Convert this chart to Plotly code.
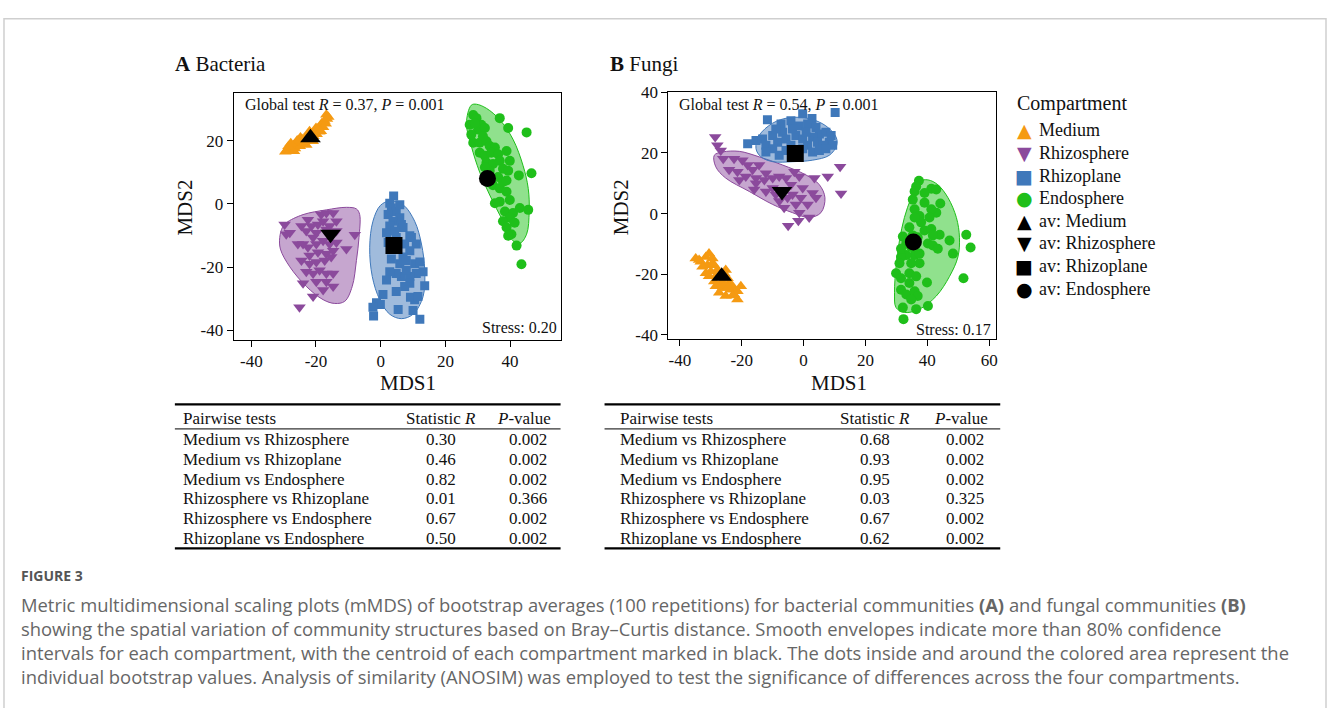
import plotly.graph_objects as go

W, H = 1328, 708
SERIF = "Liberation Serif"
SANS = "Open Sans"

# ---------------- DATA ----------------
compartments = ["Medium", "Rhizosphere", "Rhizoplane", "Endosphere"]
colors = ["#F59A12", "#8B4A9C", "#3F78BA", "#1FBF1A"]
fills = ["rgba(245,154,18,0.5)", "rgba(142,78,160,0.5)", "rgba(66,120,186,0.5)", "rgba(34,196,28,0.5)"]
symbols = ["triangle-up", "triangle-down", "square", "circle"]
legend_glyphs = ["\u25B2", "\u25BC", "\u25A0", "\u25CF"]
point_sizes = [11, 11, 9, 10]
centroid_sizes = [18, 18, 17, 17]

# Bacteria (A)
bac_medium = [(-29.5,16.5),(-28.8,17.2),(-28,16.8),(-27.5,17.8),(-27,18.5),(-26.5,17.5),(-26,18.8),(-25.5,19.5),
              (-25,18.2),(-24.5,19.8),(-24,20.5),(-23.8,19),(-23.2,21),(-22.8,20),(-22.3,21.8),(-21.8,20.6),
              (-21.3,22.2),(-20.8,21.4),(-20.3,23),(-19.8,22),(-19.4,23.8),(-19,22.8),(-18.6,24.6),(-18.2,25.5),
              (-17.8,24.2),(-17.4,26.2),(-17,25.3),(-16.6,26.8),(-16.2,27.5),(-26.8,16.6),(-28.5,18.2),(-24.8,21),
              (-23,18.6),(-21,19.8),(-20,24),(-18.5,23),(-22,23),(-25.8,20),(-27.8,19.2),(-16.8,28.2)]
bac_rhizosphere = [(-29.7,-6.5),(-29.2,-9.6),(-24.5,-7.0),(-23.0,-8.6),(-21.4,-7.0),(-18.4,-3.4),(-16.8,-2.9),(-14.7,-2.9),
                   (-17.8,-5.5),(-13.7,-5.5),(-19.9,-9.1),(-16.8,-8.1),(-20.9,-10.6),(-25.6,-12.7),(-24.0,-12.7),(-22.5,-13.7),
                   (-19.9,-12.7),(-17.8,-11.7),(-15.8,-12.7),(-13.7,-12.2),(-10.6,-14.3),(-8.0,-9.8),(-22.0,-16.3),(-19.4,-15.3),
                   (-16.8,-15.8),(-14.7,-14.8),(-24.5,-17.9),(-22.0,-18.9),(-19.9,-18.4),(-17.3,-17.9),(-15.3,-16.8),(-23.0,-21.5),
                   (-20.9,-22.0),(-18.9,-21.0),(-16.8,-22.0),(-24.0,-25.1),(-19.9,-24.6),(-16.8,-24.6),(-14.7,-26.1),(-17.8,-27.2),
                   (-20.9,-29.3),(-25.1,-32.7),(-14.7,-22.0),(-28.1,-9.1),(-15.8,-7.0),(-22.5,-5.0),(-13.7,-8.6),(-19.4,-6.5)]
bac_rhizoplane = [(4.0,2.5),(2.8,0.2),(3.3,-1.3),(4.8,-2.4),(5.9,-0.3),(2.3,-3.4),(5.9,-4.4),(3.8,-5.5),(6.4,-6.5),
                  (2.8,-7.0),(1.8,-9.1),(6.9,-7.5),(9.0,-10.1),(7.4,-12.7),(11.0,-12.7),(4.8,-10.6),(9.0,-14.8),(6.9,-16.8),
                  (3.3,-17.4),(5.9,-18.9),(7.9,-17.9),(10.5,-18.9),(12.1,-18.4),(13.1,-21.5),(11.0,-22.0),(9.0,-23.0),
                  (6.4,-23.0),(4.8,-22.0),(2.8,-21.5),(1.8,-24.1),(9.0,-25.1),(7.4,-26.1),(4.8,-27.7),(0.7,-28.7),
                  (-1.3,-31.3),(-0.1,-31.8),(-2.4,-32.7),(-2.2,-35.5),(5.4,-33.4),(10.0,-33.7),(12.1,-36.5),(10.5,-30.3),
                  (9.2,-29.5),(11.5,-29.3),(13.6,-25.9),(7.9,-21.0),(2.3,-12.2),(4.3,-8.6),(9.5,-10.6)]
bac_endosphere = [(28.6,28.1),(29.6,27.1),(27.5,25.0),(31.1,25.0),(30.1,23.5),(32.2,24.0),(36.8,27.1),(39.4,24.0),
                  (45.1,22.6),(28.6,19.3),(30.6,19.3),(32.7,19.8),(33.7,18.3),(35.3,17.8),(30.6,16.2),(32.2,15.2),
                  (34.2,16.2),(36.3,15.7),(38.9,16.7),(32.7,13.1),(34.7,12.6),(36.8,13.6),(39.9,13.6),(37.8,11.1),
                  (39.4,10.5),(42.7,9.0),(46.6,9.7),(36.3,8.5),(34.7,5.9),(36.8,4.9),(37.8,6.9),(38.9,3.8),(39.9,1.2),
                  (36.8,0.7),(35.3,0.2),(38.4,-2.4),(40.9,-2.9),(43.0,-1.3),(45.6,-1.9),(39.9,-4.4),(41.4,-6.0),
                  (37.8,-5.5),(38.9,-7.5),(40.4,-9.6),(39.4,-10.1),(42.0,-13.2),(43.5,-19.1),(33.7,10.5),(32.2,11.6),
                  (38.9,7.4),(29.1,25.5),(28.0,21.9),(31.6,21.4)]
bac_centroid_x = [-21.7, -15.5, 4.1, 33.0]
bac_centroid_y = [20.9, -9.6, -13.2, 8.0]

bac_env_rhizosphere = [(-29.2,-6.0),(-24.0,-3.4),(-16.8,-1.9),(-10.6,-1.1),(-7.5,-1.6),(-6.5,-3.4),(-6.7,-10.6),
                       (-7.5,-17.9),(-8.8,-26.1),(-11.1,-30.8),(-14.2,-31.5),(-17.8,-30.3),(-23.0,-26.1),(-28.1,-19.9),
                       (-31.0,-14.3),(-31.2,-10.6),(-30.4,-7.5)]
bac_env_rhizoplane = [(2.8,0.9),(6.9,-0.3),(10.5,-5.5),(12.6,-12.7),(13.6,-21.0),(13.1,-29.3),(10.0,-34.9),(6.4,-36.3),
                      (2.8,-34.9),(-0.3,-30.3),(-2.6,-23.0),(-3.4,-13.7),(-2.4,-5.5),(-0.1,-0.5)]
bac_env_endosphere = [(28.0,31.2),(26.5,25.5),(28.0,18.3),(30.6,10.0),(33.7,2.8),(37.8,-5.5),(40.9,-11.7),(43.0,-12.5),
                      (45.1,-9.6),(45.9,-2.4),(45.6,4.9),(44.0,12.1),(40.9,20.4),(36.8,26.6),(32.7,30.2),(29.6,31.5)]

# Fungi (B)
fun_medium = [(-34.9,-14.8),(-33.3,-15.9),(-31.6,-14.3),(-30.6,-13.2),(-29.5,-14.8),(-31.1,-17.0),(-28.9,-17.0),
              (-32.7,-17.5),(-30.0,-19.1),(-27.9,-18.6),(-28.4,-20.7),(-30.6,-20.7),(-26.8,-22.9),(-28.9,-22.4),
              (-25.7,-19.7),(-24.6,-21.3),(-24.1,-22.9),(-26.2,-24.5),(-23.5,-25.1),(-22.5,-26.7),(-21.4,-28.3),
              (-25.2,-27.2),(-23.0,-24.0),(-20.3,-24.0),(-27.3,-26.1),(-28.4,-24.0),(-21.4,-25.6),(-31.6,-19.7),
              (-25.2,-18.6),(-33.8,-15.3),(-29.5,-16.5),(-27.0,-21.0),(-26.0,-23.0),(-24.5,-24.5),(-23.0,-27.0)]
fun_rhizosphere = [(-28.6,25.2),(-27.9,22.5),(-26.8,20.8),(-26.0,18.1),(-22.5,18.1),(-19.8,17.6),(-18.1,16.0),(-16.5,14.4),
                   (-14.4,16.0),(-12.2,13.3),(-21.4,13.8),(-18.7,12.2),(-15.4,11.7),(-12.7,11.1),(-10.0,11.7),(-7.9,12.2),
                   (-5.7,11.7),(-3.0,13.8),(-1.4,12.2),(3.5,11.7),(7.8,12.2),(11.8,15.4),(12.1,6.6),(-4.1,9.5),(-0.3,8.4),
                   (2.9,6.8),(-0.9,5.2),(-2.5,3.0),(1.3,3.0),(-1.4,0.3),(1.8,-1.3),(-5.0,-4.0),(-1.7,-2.4),(-10.0,8.4),
                   (-12.2,7.3),(-16.0,7.9),(-20.8,11.1),(-24.1,14.4),(-5.2,5.2),(-6.3,1.9),(-7.9,4.1),(-3.6,6.3),(4.0,5.2),
                   (-15.4,10.0),(-9.0,6.3)]
fun_rhizoplane = [(-11.7,30.9),(-0.3,32.9),(2.7,31.3),(10.2,33.3),(-7.3,29.5),(-4.1,30.6),(-1.4,28.9),(1.3,29.5),(4.0,28.4),
                  (5.1,26.2),(7.2,26.8),(8.3,23.5),(9.4,22.5),(-18.1,23.0),(-15.4,24.1),(-13.3,24.6),(-12.2,22.5),
                  (-10.0,25.7),(-8.4,23.5),(-6.8,26.8),(-5.7,24.6),(-4.1,22.5),(-2.5,25.7),(-0.3,24.6),(1.3,22.5),
                  (2.9,25.2),(4.5,23.5),(6.2,22.5),(-10.0,21.4),(-7.9,19.2),(-5.7,20.8),(-0.3,21.4),(2.9,20.3),(5.1,20.8),
                  (7.2,21.4),(-12.2,20.3),(-3.6,27.9),(-9.0,27.9),(0.8,26.8),(8.9,25.7)]
fun_endosphere = [(37.3,10.8),(36.4,8.9),(35.9,7.3),(41.3,8.2),(42.9,7.9),(39.1,6.8),(35.3,4.6),(39.1,3.6),(44.2,3.3),
                  (42.9,0.3),(41.3,1.4),(35.9,1.4),(37.5,-0.8),(40.7,-1.3),(38.0,-2.9),(39.1,-5.6),(41.3,-5.1),(32.1,-7.6),
                  (33.2,-9.9),(34.8,-11.0),(36.9,-7.8),(35.9,-13.7),(37.5,-16.4),(34.8,-16.4),(33.2,-13.7),(31.5,-14.3),
                  (31.0,-16.4),(29.9,-19.7),(31.5,-21.3),(34.2,-19.7),(36.4,-20.7),(34.2,-22.9),(31.5,-25.1),(33.2,-26.7),
                  (35.9,-25.6),(36.9,-27.2),(34.8,-28.3),(32.1,-31.0),(36.4,-31.5),(40.2,-30.5),(39.9,-22.7),(40.2,-9.9),
                  (41.8,-10.5),(43.4,-11.6),(44.0,-7.0),(47.2,-8.9),(48.3,-13.2),(52.6,-7.0),(54.0,-11.2),(51.7,-21.3),
                  (32.3,-34.8),(31.5,-11.6),(37.5,-13.2),(35.3,-7.2),(34.2,-4.5),(41.8,-7.2),(35.9,-1.3)]
fun_centroid_x = [-26.5, -7.0, -2.7, 35.5]
fun_centroid_y = [-20.7, 7.3, 19.8, -9.4]

fun_env_rhizosphere = [(-28.9,19.2),(-26.2,20.3),(-20.8,20.5),(-14.4,18.7),(-6.8,16.0),(0.8,12.7),(5.1,9.5),(6.9,5.2),
                       (5.6,0.3),(1.8,-1.3),(-3.6,0.3),(-10.0,3.0),(-17.6,7.3),(-25.2,11.7),(-28.4,15.4)]
fun_env_rhizoplane = [(-15.4,21.4),(-14.4,25.7),(-10.0,29.8),(-4.6,31.6),(1.8,31.3),(7.2,28.9),(10.5,25.2),(10.7,22.5),
                      (8.3,19.2),(2.9,17.6),(-3.6,17.1),(-10.0,17.1),(-13.8,18.7)]
fun_env_endosphere = [(37.5,10.6),(40.2,11.1),(43.4,9.5),(46.7,5.2),(49.4,-1.3),(50.4,-7.8),(49.9,-14.3),(47.2,-20.7),
                      (42.9,-27.2),(37.5,-31.5),(32.6,-32.6),(29.9,-31.0),(29.4,-26.1),(29.9,-17.5),(31.0,-8.9),
                      (32.6,-1.3),(34.8,5.2)]

# Tick labels
bac_xticks = [-40, -20, 0, 20, 40]
bac_yticks = [-40, -20, 0, 20]
fun_xticks = [-40, -20, 0, 20, 40, 60]
fun_yticks = [-40, -20, 0, 20, 40]

# Tables
pair_names = ["Medium vs Rhizosphere", "Medium vs Rhizoplane", "Medium vs Endosphere",
              "Rhizosphere vs Rhizoplane", "Rhizosphere vs Endosphere", "Rhizoplane vs Endosphere"]
bac_R = ["0.30", "0.46", "0.82", "0.01", "0.67", "0.50"]
bac_P = ["0.002", "0.002", "0.002", "0.366", "0.002", "0.002"]
fun_R = ["0.68", "0.93", "0.95", "0.03", "0.67", "0.62"]
fun_P = ["0.002", "0.002", "0.002", "0.325", "0.002", "0.002"]

caption_lines = [
    "Metric multidimensional scaling plots (mMDS) of bootstrap averages (100 repetitions) for bacterial communities <b>(A)</b> and fungal communities <b>(B)</b>",
    "showing the spatial variation of community structures based on Bray\u2013Curtis distance. Smooth envelopes indicate more than 80% confidence",
    "intervals for each compartment, with the centroid of each compartment marked in black. The dots inside and around the colored area represent the",
    "individual bootstrap values. Analysis of similarity (ANOSIM) was employed to test the significance of differences across the four compartments.",
]

# ---------------- FIGURE ----------------
def px(x):
    return x / W

def py(y):
    return 1 - y / H

fig = go.Figure()

panels = [
    dict(xa="x", ya="y", pts=[bac_medium, bac_rhizosphere, bac_rhizoplane, bac_endosphere],
         env=[None, bac_env_rhizosphere, bac_env_rhizoplane, bac_env_endosphere],
         cx=bac_centroid_x, cy=bac_centroid_y),
    dict(xa="x2", ya="y2", pts=[fun_medium, fun_rhizosphere, fun_rhizoplane, fun_endosphere],
         env=[None, fun_env_rhizosphere, fun_env_rhizoplane, fun_env_endosphere],
         cx=fun_centroid_x, cy=fun_centroid_y),
]

for pi, p in enumerate(panels):
    for i, env in enumerate(p["env"]):
        if env is None:
            continue
        ex = [q[0] for q in env] + [env[0][0]]
        ey = [q[1] for q in env] + [env[0][1]]
        fig.add_trace(go.Scatter(x=ex, y=ey, xaxis=p["xa"], yaxis=p["ya"], mode="lines",
                                 line=dict(color=colors[i], width=1, shape="spline", smoothing=1.0),
                                 fill="toself", fillcolor=fills[i], showlegend=False, hoverinfo="skip"))
    for i, pts in enumerate(p["pts"]):
        fig.add_trace(go.Scatter(x=[q[0] for q in pts], y=[q[1] for q in pts], xaxis=p["xa"], yaxis=p["ya"],
                                 mode="markers", name=compartments[i],
                                 marker=dict(symbol=symbols[i], size=point_sizes[i], color=colors[i], line=dict(width=0)),
                                 showlegend=False))
    for i in range(4):
        fig.add_trace(go.Scatter(x=[p["cx"][i]], y=[p["cy"][i]], xaxis=p["xa"], yaxis=p["ya"],
                                 mode="markers", name="av: " + compartments[i],
                                 marker=dict(symbol=symbols[i], size=centroid_sizes[i], color="black", line=dict(width=0)),
                                 showlegend=False))

axis_common = dict(showline=True, mirror=True, linecolor="black", linewidth=1.3, ticks="outside", ticklen=6,
                   tickwidth=1, tickcolor="black", showgrid=False, zeroline=False,
                   tickfont=dict(family=SERIF, size=17, color="#111"))

fig.update_layout(
    width=W, height=H, margin=dict(l=0, r=0, t=0, b=0),
    paper_bgcolor="white", plot_bgcolor="white",
    xaxis=dict(domain=[px(234), px(561)], range=[-45.4, 55.6], anchor="y",
               tickvals=bac_xticks, ticktext=[str(v) for v in bac_xticks], **axis_common),
    yaxis=dict(domain=[py(338), py(86)], range=[-43.0, 35.0], anchor="x",
               tickvals=bac_yticks, ticktext=[str(v) for v in bac_yticks], **axis_common),
    xaxis2=dict(domain=[px(669), px(997)], range=[-43.7, 62.3], anchor="y2",
                tickvals=fun_xticks, ticktext=[str(v) for v in fun_xticks], **axis_common),
    yaxis2=dict(domain=[py(337), py(85)], range=[-41.3, 40.0], anchor="x2",
                tickvals=fun_yticks, ticktext=[str(v) for v in fun_yticks], **axis_common),
    showlegend=False,
)

ann = []
def add_text(x, y, text, size, family=SERIF, xanchor="left", color="#111", textangle=0, align="center"):
    ann.append(dict(x=px(x), y=py(y), xref="paper", yref="paper", text=text, showarrow=False,
                    xanchor=xanchor, yanchor="middle", font=dict(family=family, size=size, color=color),
                    textangle=textangle, borderpad=0, align=align))

# panel titles
add_text(174, 56, "<b>A</b> Bacteria", 21)
add_text(609, 56, "<b>B</b> Fungi", 21)
# in-plot texts
add_text(244, 98, "Global test <i>R</i> = 0.37, <i>P</i> = 0.001", 16)
add_text(679, 98, "Global test <i>R</i> = 0.54, <i>P</i> = 0.001", 16)
add_text(558, 325, "Stress: 0.20", 16, xanchor="right")
add_text(993, 327, "Stress: 0.17", 16, xanchor="right")
# axis titles
add_text(408, 382, "MDS1", 21, xanchor="center")
add_text(840, 382, "MDS1", 21, xanchor="center")
add_text(185, 203, "MDS2", 21, xanchor="center", textangle=-90)
add_text(621, 203, "MDS2", 21, xanchor="center", textangle=-90)

# legend (text-based)
add_text(1017, 97, "Compartment", 20)
legend_labels = compartments + ["av: " + c for c in compartments]
legend_colors = colors + ["black"] * 4
legend_syms = legend_glyphs + legend_glyphs
for k, lab in enumerate(legend_labels):
    yk = 124 + k * 23.1
    add_text(1025, yk, legend_syms[k], 19, family="DejaVu Sans", xanchor="center", color=legend_colors[k])
    add_text(1039, yk, lab, 18)

shapes = []
def hline(x0, x1, y, w):
    shapes.append(dict(type="line", xref="paper", yref="paper", x0=px(x0), x1=px(x1), y0=py(y), y1=py(y),
                       line=dict(color="black", width=w)))

tables = [
    dict(x0=175, x1=561, name_x=182, r_x=441, p_x=524, R=bac_R, P=bac_P),
    dict(x0=605, x1=1001, name_x=619, r_x=876, p_x=962, R=fun_R, P=fun_P),
]
row_y0 = 440
row_dy = 20.1
for t in tables:
    hline(t["x0"], t["x1"], 404, 2.2)
    hline(t["x0"], t["x1"], 429, 1)
    hline(t["x0"], t["x1"], 551, 2.2)
    add_text(t["name_x"], 418, "Pairwise tests", 17)
    add_text(t["r_x"], 418, "Statistic <i>R</i>", 17, xanchor="center")
    add_text(t["p_x"], 418, "<i>P</i>-value", 17, xanchor="center")
    for k in range(len(pair_names)):
        yk = row_y0 + k * row_dy
        add_text(t["name_x"], yk, pair_names[k], 17)
        add_text(t["r_x"], yk, t["R"][k], 17, xanchor="center")
        add_text(t["p_x"] + 4, yk, t["P"][k], 17, xanchor="center")

# caption
add_text(20, 579, "<b>FIGURE 3</b>", 14, family=SANS, color="#555")
add_text(20, 645, "<br>".join(caption_lines), 18.4, family=SANS, color="#666666", align="left")

# outer frame
shapes.append(dict(type="rect", xref="paper", yref="paper", x0=px(4), x1=px(1327), y0=py(740), y1=py(10),
                   line=dict(color="#cfcfcf", width=1.5)))

fig.update_layout(annotations=ann, shapes=shapes)

fig.write_html("out.html", config={"displayModeBar": False},
               post_script="document.body.style.margin='0';document.body.style.overflow='hidden';")
